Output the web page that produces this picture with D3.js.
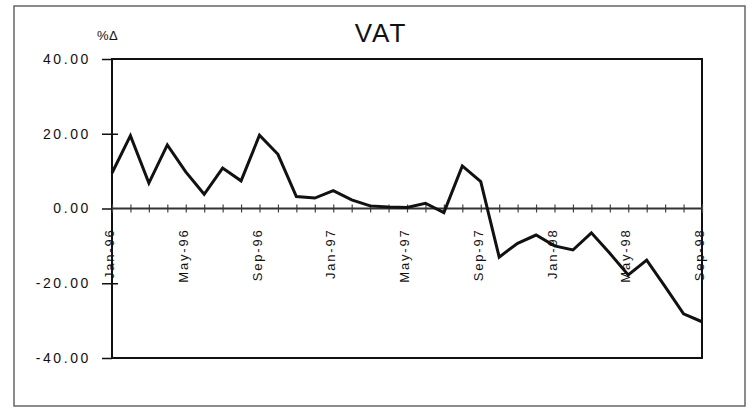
<!DOCTYPE html>
<head>
  <meta charset="utf-8" />
  <script src="https://cdnjs.cloudflare.com/ajax/libs/d3/7.8.5/d3.min.js"></script>
  <style>
    body { margin: 0; background: #fff; }
    text { font-family: "Liberation Sans", Arial, sans-serif; fill: #111; }
    .axis path { display: none; }
    .line { fill: none; stroke: #111; stroke-width: 3px; stroke-linejoin: miter; }
  </style>
</head>
<body>
  <svg width="752" height="408"></svg>
  <script>

    // months on the category axis
    var months = ["Jan-96","Feb-96","Mar-96","Apr-96","May-96","Jun-96","Jul-96","Aug-96",
      "Sep-96","Oct-96","Nov-96","Dec-96","Jan-97","Feb-97","Mar-97","Apr-97","May-97",
      "Jun-97","Jul-97","Aug-97","Sep-97","Oct-97","Nov-97","Dec-97","Jan-98","Feb-98",
      "Mar-98","Apr-98","May-98","Jun-98","Jul-98","Aug-98","Sep-98"];

    // VAT % change
    var vat = [9.5, 19.5, 6.8, 17, 9.8, 3.8, 10.8, 7.4, 19.6, 14.5, 3.2, 2.8, 4.8, 2.3,
      0.7, 0.4, 0.3, 1.4, -1.1, 11.4, 7.2, -13, -9.3, -7.1, -10, -11.1, -6.5, -12,
      -17.8, -13.8, -20.9, -28.2, -30.3];

    var labelMonths = ["Jan-96","May-96","Sep-96","Jan-97","May-97","Sep-97","Jan-98","May-98","Sep-98"];
    var yTicks = [40, 20, 0, -20, -40];

    var svg = d3.select("svg"),
    margin = {top: 59, right: 50, bottom: 50, left: 112},
    width = +svg.attr("width") - margin.left - margin.right,
    height = +svg.attr("height") - margin.top - margin.bottom;

    // outer frame
    svg.append("rect")
    .attr("x", 14).attr("y", 6)
    .attr("width", 731).attr("height", 400)
    .attr("fill", "none")
    .attr("stroke", "#666")
    .attr("stroke-width", 1.5);

    var x = d3.scalePoint().domain(months).range([0, width]),
    y = d3.scaleLinear().domain([-40, 40]).range([height, 0]);

    var g = svg.append("g")
    .attr("transform", "translate(" + margin.left + "," + margin.top + ")");

    // plot area border
    g.append("rect")
    .attr("width", width).attr("height", height)
    .attr("fill", "none")
    .attr("stroke", "#111")
    .attr("stroke-width", 2);

    // y axis
    var yAxis = g.append("g")
    .attr("class", "axis")
    .call(d3.axisLeft(y).tickValues(yTicks).tickFormat(function(d) { return d.toFixed(2); }));

    yAxis.selectAll(".tick line")
    .attr("x1", function(d) { return (d === 20 || d === -20) ? 6 : 0; })
    .attr("x2", -10)
    .attr("stroke", "#111")
    .attr("stroke-width", 1.5);

    yAxis.selectAll(".tick text")
    .attr("x", -21)
    .style("font-size", "14px")
    .style("letter-spacing", "2.6px")
    .attr("fill", "#1a1a1a");

    // x axis crossing at zero
    var xAxis = g.append("g")
    .attr("class", "axis")
    .attr("transform", "translate(0," + y(0) + ")")
    .call(d3.axisBottom(x).tickFormat(function(d) { return labelMonths.indexOf(d) >= 0 ? d : ""; }));

    g.append("line")
    .attr("x1", 0).attr("x2", width)
    .attr("y1", y(0)).attr("y2", y(0))
    .attr("stroke", "#333")
    .attr("stroke-width", 2);

    xAxis.selectAll(".tick line")
    .attr("y1", -4)
    .attr("y2", 4)
    .attr("stroke", "#444")
    .attr("stroke-width", 1.2);

    xAxis.selectAll(".tick text")
    .attr("transform", "rotate(-90)")
    .attr("x", -20)
    .attr("y", -3)
    .attr("dy", "0.35em")
    .attr("text-anchor", "end")
    .style("font-size", "13px")
    .style("letter-spacing", "1.8px")
    .attr("fill", "#1a1a1a");

    // the series
    var line = d3.line()
    .x(function(d, i) { return x(months[i]); })
    .y(function(d) { return y(d); });

    g.append("path")
    .datum(vat)
    .attr("class", "line")
    .attr("d", line);

    // title and unit
    svg.append("text")
    .attr("x", 381)
    .attr("y", 42)
    .attr("text-anchor", "middle")
    .style("font-size", "26px")
    .style("letter-spacing", "2px")
    .text("VAT");

    svg.append("text")
    .attr("x", 97)
    .attr("y", 40)
    .style("font-size", "13px")
    .style("letter-spacing", "0.5px")
    .text("%Δ");

  </script>
</body>
</html>
